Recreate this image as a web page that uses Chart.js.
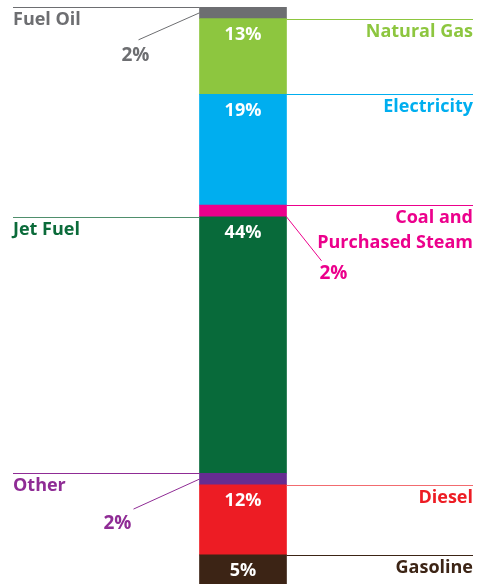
<!DOCTYPE html>
<html>
<head>
<meta charset="utf-8">
<script src="https://cdn.jsdelivr.net/npm/chart.js@4"></script>
<style>
html,body{margin:0;padding:0;background:#fff;}
#c{display:block;}
</style>
</head>
<body>
<canvas id="c" width="477" height="584"></canvas>
<script>
// Data, bottom of the bar first
const categories = ['Gasoline','Diesel','Other','Jet Fuel','Coal and\nPurchased Steam','Electricity','Natural Gas','Fuel Oil'];
const values = [5, 12, 2, 44, 2, 19, 13, 2];
const percentLabels = ['5%','12%','2%','44%','2%','19%','13%','2%'];
const barColors = ['#3c2415','#ed1c24','#662d91','#086a3a','#ec008c','#00aeef','#8dc63f','#6d6e71'];
const textColors = ['#3c2415','#ed1c24','#8f2c95','#0b6b3a','#ec008c','#00aeef','#8dc63f','#6d6e71'];
const lineColors = ['#3c2415','#f26b6f','#8f2c95','#4f8f6c','#ec008c','#00aeef','#8dc63f','#6d6e71'];
const sides = ['right','right','left','left','right','right','right','left'];
// small slices use a leader to an outside percent label
const leaders = {2: {dx:-66, dy:30, tx:-82, ty:50, from:'mid'}, 4: {dx:35, dy:44, tx:47, ty:62, from:'bottom'}, 7: {dx:-61, dy:27, tx:-64, ty:48, from:'mid'}};

const FONT = '"Open Sans", Arial, sans-serif';

const labelPlugin = {
  id: 'segLabels',
  afterDatasetsDraw(chart) {
    const ctx = chart.ctx;
    ctx.save();
    const leftX = 13, rightX = 473;
    chart.data.datasets.forEach((ds, i) => {
      const el = chart.getDatasetMeta(i).data[0];
      const top = Math.min(el.y, el.base);
      const bot = Math.max(el.y, el.base);
      const bl = el.x - el.width / 2, br = el.x + el.width / 2;
      const side = sides[i];
      // rule line at top of segment
      ctx.strokeStyle = lineColors[i];
      ctx.lineWidth = 1;
      ctx.beginPath();
      const ly = Math.round(top) + 0.5;
      if (side === 'left') { ctx.moveTo(leftX, ly); ctx.lineTo(bl, ly); }
      else { ctx.moveTo(br, ly); ctx.lineTo(rightX, ly); }
      ctx.stroke();
      // category label
      ctx.fillStyle = textColors[i];
      ctx.font = '700 18px ' + FONT;
      ctx.textBaseline = 'alphabetic';
      ctx.textAlign = side === 'left' ? 'left' : 'right';
      const lines = categories[i].split('\n');
      lines.forEach((t, k) => {
        ctx.fillText(t, side === 'left' ? leftX : rightX, top + 18 + k * 25);
      });
      // percent label
      const L = leaders[i];
      if (L) {
        const sx = side === 'left' ? bl : br;
        const sy = L.from === 'mid' ? (top + bot) / 2 : bot;
        ctx.strokeStyle = lineColors[i];
        ctx.beginPath();
        ctx.moveTo(sx, sy);
        ctx.lineTo(sx + L.dx, sy + L.dy);
        ctx.stroke();
        ctx.fillStyle = textColors[i];
        ctx.font = '700 19px ' + FONT;
        ctx.textAlign = 'center';
        ctx.fillText(percentLabels[i], sx + L.tx + (side === 'left' ? 0 : 0), sy + L.ty);
      } else {
        ctx.fillStyle = '#ffffff';
        ctx.font = '700 18px ' + FONT;
        ctx.textAlign = 'center';
        ctx.fillText(percentLabels[i], el.x, top + 21.5);
      }
    });
    ctx.restore();
  }
};

new Chart(document.getElementById('c'), {
  type: 'bar',
  data: {
    labels: ['Share'],
    datasets: values.map((v, i) => ({
      label: categories[i],
      data: [v],
      backgroundColor: barColors[i],
      borderWidth: 0,
      barThickness: 87,
      stack: 's'
    }))
  },
  options: {
    responsive: false,
    animation: false,
    layout: { padding: { left: 9, right: 0, top: 7, bottom: 0 } },
    plugins: { legend: { display: false }, tooltip: { enabled: false } },
    scales: {
      x: { display: false, stacked: true },
      y: { display: false, stacked: true, min: 0, max: 99 }
    }
  },
  plugins: [labelPlugin]
});
</script>
</body>
</html>
